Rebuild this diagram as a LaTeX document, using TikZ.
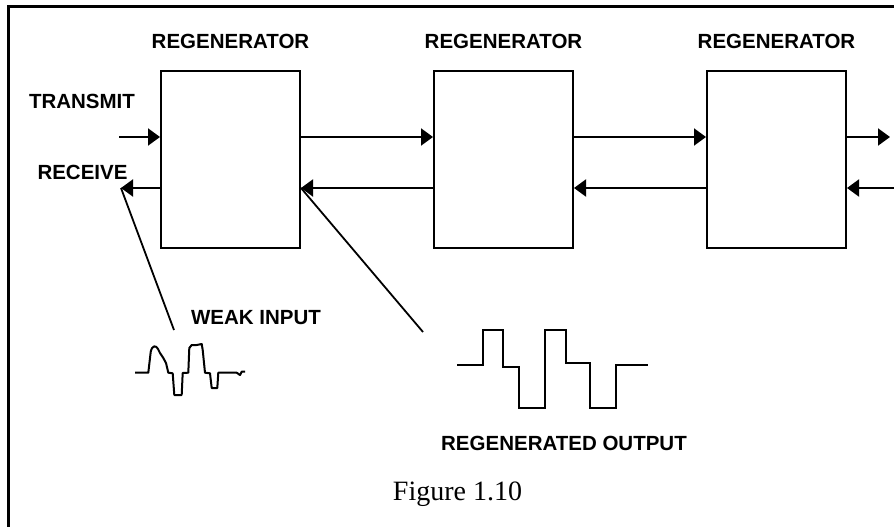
\documentclass[tikz,border=0pt]{standalone}
\usepackage{fontspec}
\setmainfont{Liberation Serif}
\newfontfamily\labelfont{Liberation Sans}
\usetikzlibrary{arrows.meta, positioning}

\tikzset{
  %% ---- boxes ----
  regbox/.style  = {rectangle, draw, line width=2pt,
                    minimum width=139pt, minimum height=177pt,
                    inner sep=0pt},
  lbl/.style     = {font=\labelfont\bfseries\fontsize{20.5}{24}\selectfont,
                    inner sep=0pt},
  %% ---- lines ----
  arrow/.style   = {-{Triangle[length=12pt, width=17pt]}, line width=2pt},
  pointer/.style = {line width=1.8pt},
  wave/.style    = {line width=2pt, line join=round},
}

\begin{document}
\begin{tikzpicture}[x=1pt, y=-1pt]
  \useasboundingbox (0,0) rectangle (894,527);

  % frame
  \draw[line width=3pt] (8,527) -- (8,7) -- (894,7);

  % regenerators
  \node[regbox] (reg1) at (230.5,159.5) {};
  \node[regbox, right=132pt of reg1] (reg2) {};
  \node[regbox, right=132pt of reg2] (reg3) {};

  \node[lbl, above=21pt of reg1] (name1) {REGENERATOR};
  \node[lbl, above=21pt of reg2] (name2) {REGENERATOR};
  \node[lbl, above=21pt of reg3] (name3) {REGENERATOR};

  % line levels and free ends
  \coordinate (up)    at (0,137);
  \coordinate (dn)    at (0,188);
  \coordinate (txin)  at (119,137);
  \coordinate (rxout) at (121,188);
  \coordinate (txout) at (890,137);
  \coordinate (rxin)  at (894,188);

  \node[lbl] (transmit) at (82,101.5) {TRANSMIT};
  \node[lbl] (receive)  at (82.5,172.5) {RECEIVE};

  \draw[arrow] (txin) -- (reg1.west |- up);
  \draw[arrow] (reg1.west |- dn) -- (rxout);
  \draw[arrow] (reg1.east |- up) -- (reg2.west |- up);
  \draw[arrow] (reg2.west |- dn) -- (reg1.east |- dn);
  \draw[arrow] (reg2.east |- up) -- (reg3.west |- up);
  \draw[arrow] (reg3.west |- dn) -- (reg2.east |- dn);
  \draw[arrow] (reg3.east |- up) -- (txout);
  \draw[arrow] (rxin) -- (reg3.east |- dn);

  % weak input
  \coordinate (weakend) at (174,330);
  \draw[pointer] (rxout) -- (weakend);
  \node[lbl] (weak) at (256,317.5) {WEAK INPUT};
  \draw[wave] (135,372.7) -- (148.3,372.7) -- (150.7,352)
    .. controls (152,345) and (156,345) .. (158,349)
    -- (160,353) -- (163.3,358) -- (166,363) -- (168.3,372.7)
    -- (172.7,373.3) -- (174.3,395) -- (181.7,395) -- (182.7,373)
    -- (188.3,372.7) -- (189.3,348) -- (191.7,345) -- (196.7,345)
    -- (201.7,344) -- (202.7,350) -- (205,372.7) -- (210,373.3)
    -- (211.7,388) -- (217.3,388) -- (218.3,372.7) -- (236.7,372.7)
    -- (240,375) -- (241.7,371.7) -- (245,371.7);

  % regenerated output
  \coordinate (regenend) at (423,332);
  \draw[pointer] (reg1.east |- dn) -- (regenend);
  \node[lbl] (regen) at (564,443) {REGENERATED OUTPUT};
  \draw[wave, line join=miter] (457,365) -- (483,365) -- (483,330) -- (503,330)
    -- (503,367) -- (519,367) -- (519,408) -- (545,408) -- (545,330)
    -- (566,330) -- (566,363) -- (590,363) -- (590,408) -- (616,408)
    -- (616,365) -- (648,365);

  % caption
  \node[font=\fontsize{28}{32}\selectfont, anchor=base, inner sep=0pt]
    (caption) at (457.5,500) {Figure 1.10};

\end{tikzpicture}
\end{document}
